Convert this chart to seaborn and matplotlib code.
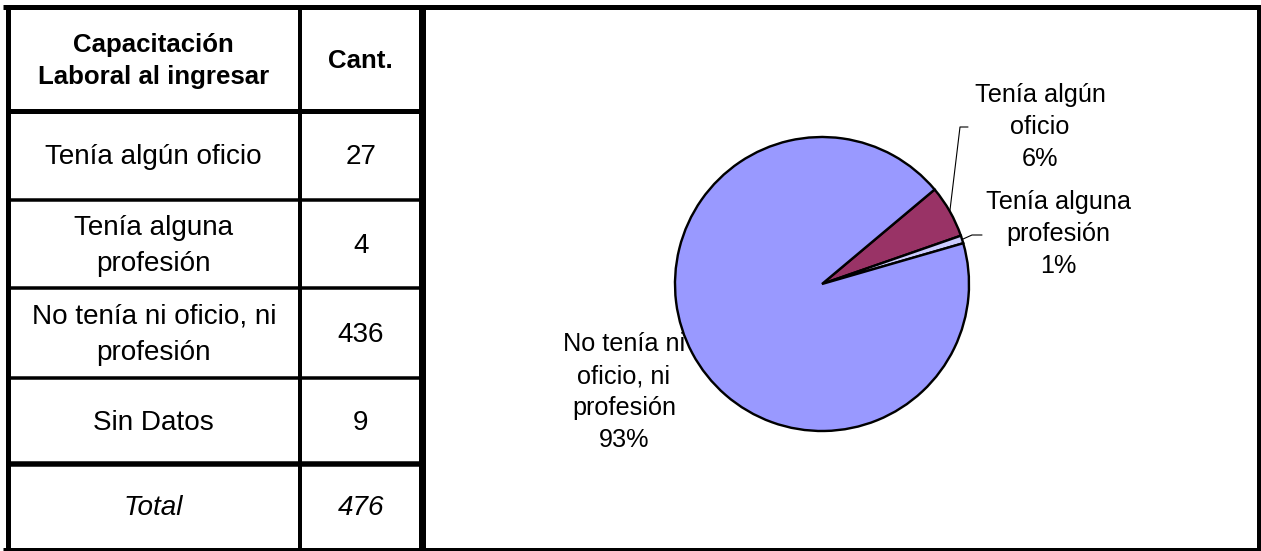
import matplotlib
matplotlib.use("Agg")
import matplotlib.pyplot as plt
import numpy as np
import seaborn as sns

# data
header = ["Capacitación\nLaboral al ingresar", "Cant."]
categories = ["Tenía algún oficio", "Tenía alguna\nprofesión",
              "No tenía ni oficio, ni\nprofesión", "Sin Datos"]
counts = [27, 4, 436, 9]
total_label = "Total"
total = 476

pie_labels = ["Tenía algún\noficio", "Tenía alguna\nprofesión",
              "No tenía ni\noficio, ni\nprofesión"]
pie_counts = [27, 4, 436]
pie_colors = ["#993366", "#CCCCFF", "#9999FF"]

sns.set_theme(style="white")
plt.rcParams['font.family'] = ['Liberation Sans', 'DejaVu Sans']
plt.rcParams['text.color'] = 'black'

W, H = 1261, 551
fig = plt.figure(figsize=(W / 100, H / 100), dpi=100)
px = 0.72  # pixels -> points

# pie placement (pixels)
cx, cy, r = 822, 284, 147
ax_pie = fig.add_axes([(cx - r) / W, (H - cy - r) / H, 2 * r / W, 2 * r / H])
start = 40
ax_pie.pie(pie_counts, colors=pie_colors, startangle=start, counterclock=False,
           wedgeprops=dict(edgecolor='black', linewidth=2.4 * px))
ax_pie.set_xlim(-1, 1)
ax_pie.set_ylim(-1, 1)
ax_pie.set_axis_off()

# overlay in pixel coordinates for table, borders and labels
ax = fig.add_axes([0, 0, 1, 1])
ax.set_xlim(0, W)
ax.set_ylim(H, 0)
ax.set_axis_off()
ax.patch.set_alpha(0)

col_x = [7.5, 300, 421.5]
row_y = [6.7, 111, 200, 287.5, 377.5, 463.7, 548.5]
row_w = [5, 5, 3.5, 3.5, 3.5, 5.5, 3]

for y, w in zip(row_y[1:-1], row_w[1:-1]):
    ax.hlines(y, col_x[0], col_x[-1], color='black', lw=w * px)
ax.hlines(row_y[0], 3, W, color='black', lw=row_w[0] * px)
ax.hlines(row_y[-1], 3, W, color='black', lw=row_w[-1] * px)
ax.vlines(col_x[0], row_y[0], row_y[-1], color='black', lw=5 * px)
ax.vlines(col_x[1], row_y[0], row_y[-1], color='black', lw=4 * px)
ax.vlines(col_x[2], row_y[0], row_y[-1], color='black', lw=7 * px)
ax.vlines(W - 2, row_y[0], row_y[-1], color='black', lw=4 * px)

mid_c1 = (col_x[0] + col_x[1]) / 2
mid_c2 = (col_x[1] + col_x[2]) / 2
centers = [(row_y[i] + row_y[i + 1]) / 2 for i in range(len(row_y) - 1)]

ax.text(mid_c1, centers[0] + 2, header[0], ha='center', va='center',
        fontsize=18.6, fontweight='bold', linespacing=1.45)
ax.text(mid_c2, centers[0] + 2, header[1], ha='center', va='center',
        fontsize=18.6, fontweight='bold')
for i, (cat, n) in enumerate(zip(categories, counts)):
    ax.text(mid_c1, centers[i + 1] + 2, cat, ha='center', va='center',
            fontsize=20.1, linespacing=1.5)
    ax.text(mid_c2, centers[i + 1] + 2, str(n), ha='center', va='center',
            fontsize=20.1)
ax.text(mid_c1, centers[-1] + 2, total_label, ha='center', va='center',
        fontsize=20.1, style='italic')
ax.text(mid_c2, centers[-1] + 2, str(total), ha='center', va='center',
        fontsize=20.1, style='italic')

# pie labels
pie_sum = sum(pie_counts)
cum = np.cumsum([0] + pie_counts[:-1])
mids = [start - 360 * (c0 + c / 2) / pie_sum for c0, c in zip(cum, pie_counts)]
label_pos = [(1040, 127), (1058, 234), (624, 392)]
leaders = [[(960, 127), (968, 127)], [(972, 235), (982, 235)], None]

for lab, c, m, pos, lead in zip(pie_labels, pie_counts, mids, label_pos, leaders):
    pct = round(100 * c / pie_sum)
    ax.text(pos[0], pos[1], f"{lab}\n{pct}%", ha='center', va='center',
            fontsize=18.2, linespacing=1.42)
    if lead:
        ex = cx + r * np.cos(np.radians(m))
        ey = cy - r * np.sin(np.radians(m))
        xs = [ex] + [p[0] for p in lead]
        ys = [ey] + [p[1] for p in lead]
        ax.plot(xs, ys, color='black', lw=0.8)

fig.savefig("out.png", dpi=100)
